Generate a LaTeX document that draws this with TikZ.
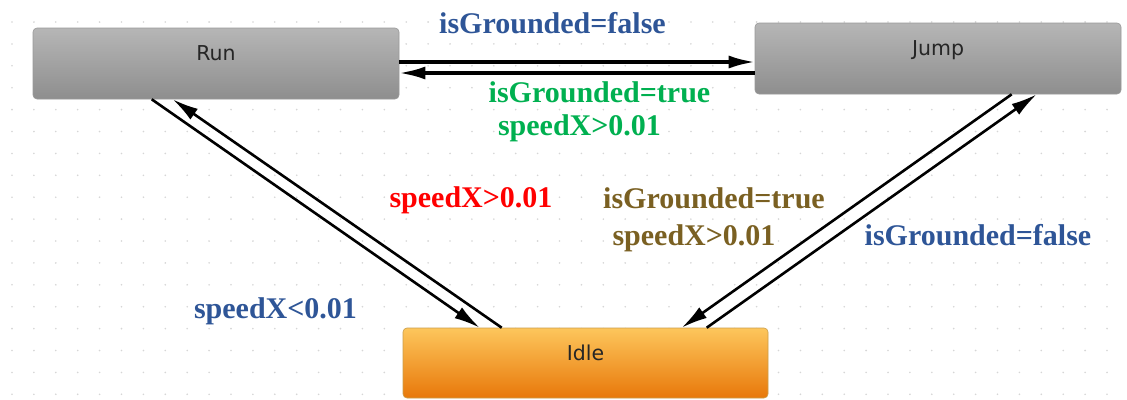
\documentclass[tikz,border=0pt]{standalone}
\usepackage{fontspec}
\setmainfont{Liberation Serif}
\newfontfamily\statefont{DejaVu Sans}
\usetikzlibrary{arrows.meta,calc}

\definecolor{condblue}{HTML}{2E5597}
\definecolor{condgreen}{HTML}{00B050}
\definecolor{condred}{HTML}{FF0000}
\definecolor{condbrown}{HTML}{7A6022}
\definecolor{griddot}{HTML}{D6D6D6}
\definecolor{greytop}{HTML}{B6B6B6}
\definecolor{greybot}{HTML}{8E8E8E}
\definecolor{orangetop}{HTML}{FDC65C}
\definecolor{orangebot}{HTML}{E8780A}

\tikzset{
  state/.style={rectangle, rounded corners=4pt, inner sep=0pt,
    minimum width=366pt, minimum height=71pt,
    text height=15pt, text depth=21pt,
    font=\statefont\fontsize{20.5}{22}\selectfont, text=black!85},
  greystate/.style={state, top color=greytop, bottom color=greybot, draw=black!40, line width=0.6pt},
  idlestate/.style={state, top color=orangetop, bottom color=orangebot, draw=orangetop!80!black, line width=0.6pt},
  cond/.style={font=\bfseries\fontsize{30}{32}\selectfont, fill=white, inner sep=1pt, anchor=base},
  headtip/.tip={Latex[length=26pt,width=13pt]},
  bigtrans/.style={line width=3.2pt, draw=black, -{headtip}},
  diagtrans/.style={line width=2.6pt, draw=black, -{headtip}}
}

\begin{document}
\begin{tikzpicture}[x=1pt,y=-1pt]
  \useasboundingbox (0,0) rectangle (1127,399);
  \fill[white] (0,0) rectangle (1127,399);

  % editor grid
  \foreach \i in {0,...,51}
    \foreach \j in {0,...,17}
      \fill[griddot] (12+\i*21.9, 22+\j*21.9) circle (0.9);

  % states
  \node[greystate] (Run)  at (216,63.5)  {Run};
  \node[greystate] (Jump) at (938,58.5)  {Jump};
  \node[idlestate, minimum width=365pt, minimum height=70pt] (Idle) at (585.5,363) {Idle};

  % Run <-> Jump
  \draw[bigtrans] (Run.east |- 0,62) -- (Jump.west |- 0,62);
  \draw[bigtrans] (Jump.west |- 0,73) -- (Run.east |- 0,73);

  % Run <-> Idle
  \draw[diagtrans] ([xshift=119pt]Run.south west) -- ([xshift=77pt]Idle.north west);
  \draw[diagtrans] ([xshift=99pt]Idle.north west) -- ([xshift=140pt]Run.south west);

  % Jump <-> Idle
  \draw[diagtrans] ([xshift=257pt]Jump.south west) -- ([xshift=279pt]Idle.north west);
  \draw[diagtrans] ([xshift=304pt]Idle.north west) -- ([xshift=282pt]Jump.south west);

  % transition conditions
  \node[cond, text=condblue]  (cRJ)  at (552.5,33)  {isGrounded=false};
  \node[cond, text=condgreen] (cJR1) at (599.5,102) {isGrounded=true};
  \node[cond, text=condgreen] (cJR2) at (579.5,135) {speedX>0.01};
  \node[cond, text=condred]   (cIR)  at (471,207)   {speedX>0.01};
  \node[cond, text=condbrown] (cJI1) at (714,208)   {isGrounded=true};
  \node[cond, text=condbrown] (cJI2) at (694,245)   {speedX>0.01};
  \node[cond, text=condblue]  (cIJ)  at (978,245)   {isGrounded=false};
  \node[cond, text=condblue]  (cRI)  at (275.5,318) {speedX<0.01};
\end{tikzpicture}
\end{document}
